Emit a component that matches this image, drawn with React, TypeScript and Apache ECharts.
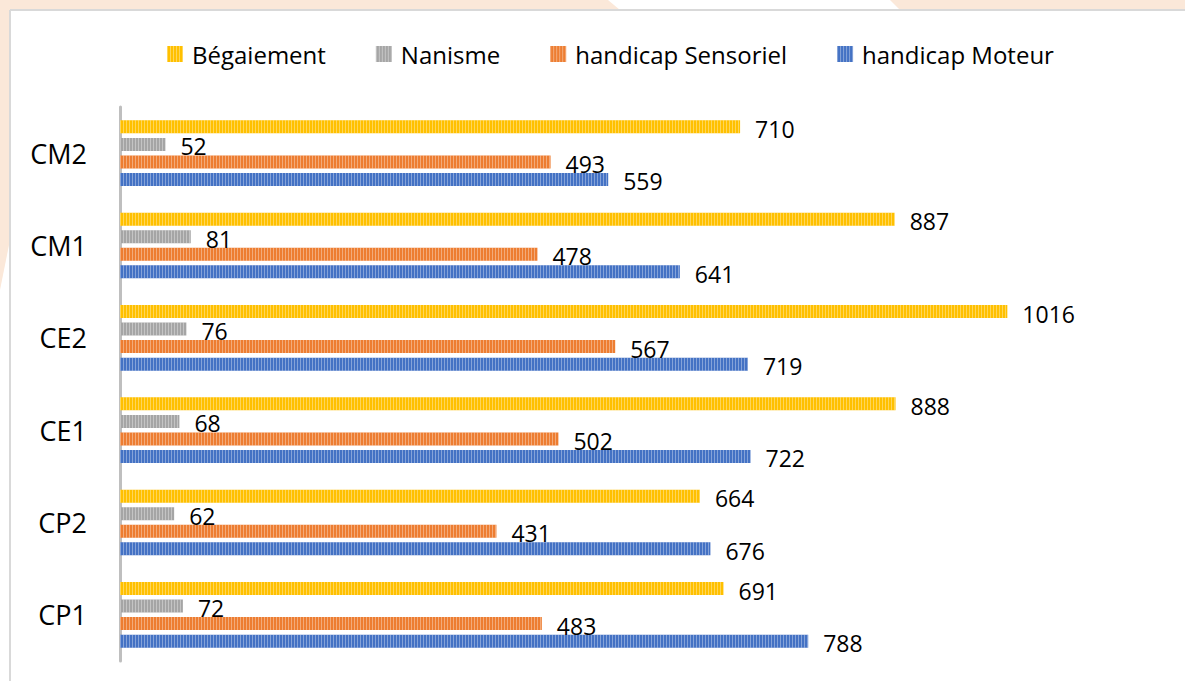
import React, { useEffect, useRef } from "react";
import * as echarts from "echarts";

const categories = ["CM2", "CM1", "CE2", "CE1", "CP2", "CP1"];
const seriesNames = ["Bégaiement", "Nanisme", "handicap Sensoriel", "handicap Moteur"];
const begaiement = [710, 887, 1016, 888, 664, 691];
const nanisme = [52, 81, 76, 68, 62, 72];
const sensoriel = [493, 478, 567, 502, 431, 483];
const moteur = [559, 641, 719, 722, 676, 788];
const colors = ["#FFC000", "#A5A5A5", "#ED7D31", "#4472C4"];

const FONT = "'Open Sans', 'Noto Sans', sans-serif";

export default function App() {
  const ref = useRef<HTMLDivElement>(null);
  useEffect(() => {
    if (!ref.current) return;
    const chart = echarts.init(ref.current, undefined, { renderer: "svg" });
    const values = [begaiement, nanisme, sensoriel, moteur];
    const decal = {
      symbol: "rect",
      symbolSize: 1,
      dashArrayX: [1, 2],
      dashArrayY: [10, 0],
      color: "rgba(255,255,255,0.35)",
      rotation: 0,
    };
    chart.setOption({
      animation: false,
      backgroundColor: "#ffffff",
      aria: { enabled: true, decal: { show: true } },
      textStyle: { fontFamily: FONT },
      graphic: [
        { type: "polygon", shape: { points: [[0, 0], [608, 0], [620, 10], [0, 10]] }, style: { fill: "#FBE8D9" }, silent: true },
        { type: "polygon", shape: { points: [[890, 0], [1185, 0], [1185, 10], [900, 10]] }, style: { fill: "#FBE8D9" }, silent: true },
        { type: "polygon", shape: { points: [[0, 0], [10, 0], [10, 240], [0, 290]] }, style: { fill: "#FBE8D9" }, silent: true },
        { type: "line", shape: { x1: 10, y1: 10, x2: 1185, y2: 10 }, style: { stroke: "#D9D9D9", lineWidth: 2 }, silent: true },
        { type: "line", shape: { x1: 10, y1: 10, x2: 10, y2: 681 }, style: { stroke: "#D9D9D9", lineWidth: 2 }, silent: true },
      ],
      legend: {
        data: seriesNames.map((n) => ({ name: n, icon: "rect" })),
        left: 162,
        top: 37,
        itemWidth: 16,
        itemHeight: 16,
        itemGap: 50,
        textStyle: { fontSize: 24, color: "#000", fontFamily: FONT, padding: [0, 0, 0, 4] },
      },
      grid: { left: 120, top: 107, width: 1000, height: 554, containLabel: false },
      xAxis: { type: "value", min: 0, max: 1145, show: false },
      yAxis: {
        type: "category",
        data: categories,
        inverse: true,
        axisLine: { lineStyle: { color: "#BFBFBF", width: 3 } },
        axisTick: { show: false },
        axisLabel: { fontSize: 27, color: "#000", margin: 33, fontFamily: FONT },
      },
      series: seriesNames.map((name, i) => ({
        name,
        type: "bar",
        data: values[i],
        barWidth: 13,
        barGap: "35%",
        itemStyle: { color: colors[i], decal },
        label: {
          show: true,
          position: "right",
          distance: 15,
          fontSize: 23,
          color: "#000",
          fontFamily: FONT,
          offset: [0, 2],
        },
      })),
    });
    return () => chart.dispose();
  }, []);
  return (
    <div
      ref={ref}
      style={{ position: "absolute", left: 0, top: 0, width: 1185, height: 681 }}
    />
  );
}
